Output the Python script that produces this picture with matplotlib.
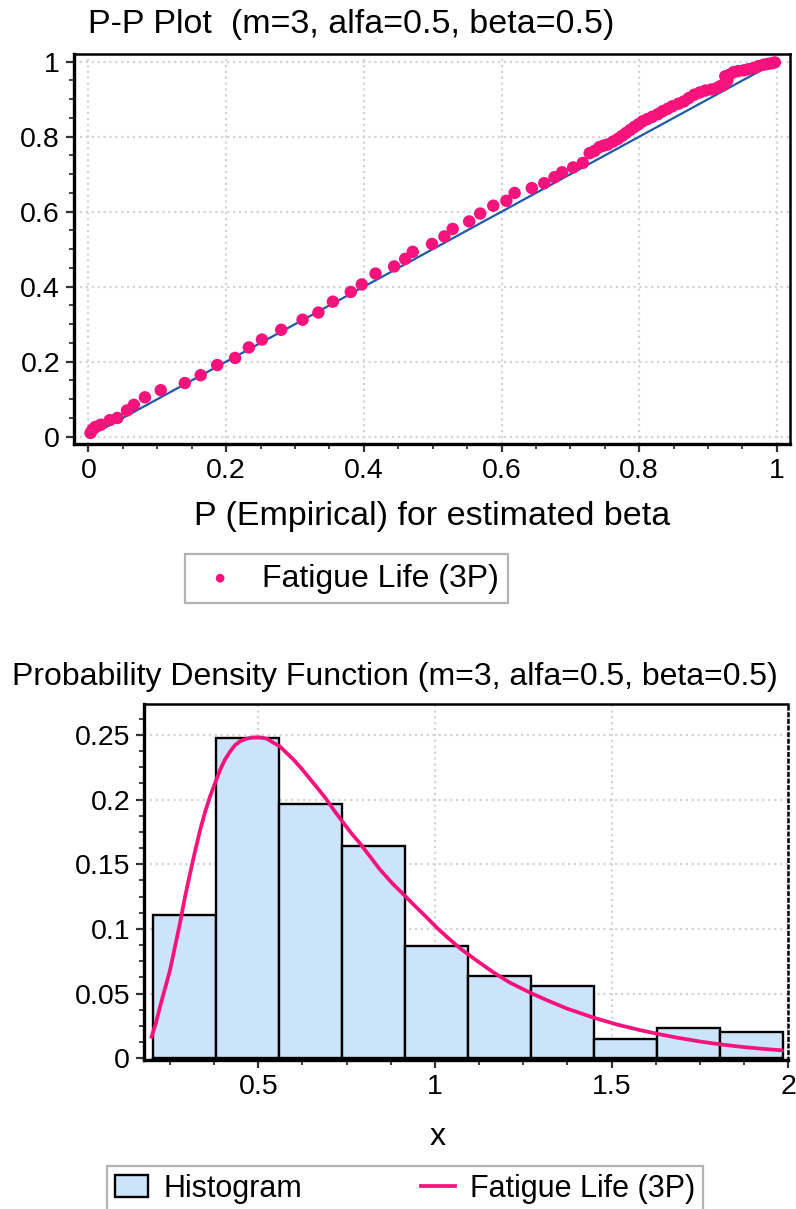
import numpy as np
import matplotlib
matplotlib.use("Agg")
import matplotlib.pyplot as plt
from matplotlib.ticker import MultipleLocator, FixedLocator, FixedFormatter

plt.rcParams['font.family'] = ['Liberation Sans', 'DejaVu Sans']

# P-P plot: empirical vs. fitted probabilities
pp_x = [0.003, 0.006, 0.010, 0.018, 0.031, 0.042, 0.056, 0.066, 0.082, 0.105,
        0.140, 0.163, 0.187, 0.213, 0.233, 0.252, 0.280, 0.311, 0.334, 0.355,
        0.381, 0.397, 0.417, 0.444, 0.460, 0.471, 0.499, 0.517, 0.529, 0.553,
        0.569, 0.588, 0.607, 0.619, 0.644, 0.662, 0.677, 0.688, 0.704, 0.718,
        0.728, 0.735, 0.742, 0.748, 0.754, 0.762, 0.769, 0.775, 0.781, 0.787,
        0.793, 0.799, 0.805, 0.812, 0.819, 0.827, 0.834, 0.841, 0.848, 0.857,
        0.865, 0.872, 0.880, 0.888, 0.896, 0.905, 0.913, 0.918, 0.923, 0.925,
        0.928, 0.931, 0.937, 0.944, 0.952, 0.959, 0.966, 0.973, 0.981, 0.987,
        0.993, 0.997]
pp_y = [0.010, 0.019, 0.026, 0.032, 0.044, 0.050, 0.070, 0.085, 0.105, 0.124,
        0.143, 0.164, 0.191, 0.210, 0.238, 0.259, 0.285, 0.312, 0.331, 0.360,
        0.386, 0.406, 0.435, 0.454, 0.474, 0.493, 0.514, 0.534, 0.554, 0.574,
        0.595, 0.616, 0.629, 0.650, 0.663, 0.676, 0.692, 0.705, 0.718, 0.730,
        0.756, 0.762, 0.772, 0.776, 0.779, 0.787, 0.794, 0.802, 0.810, 0.818,
        0.826, 0.833, 0.841, 0.847, 0.853, 0.860, 0.868, 0.874, 0.881, 0.888,
        0.894, 0.903, 0.912, 0.918, 0.923, 0.926, 0.930, 0.935, 0.939, 0.961,
        0.950, 0.965, 0.972, 0.975, 0.977, 0.980, 0.983, 0.988, 0.992, 0.994,
        0.996, 0.998]
diag_x = [0, 1]
diag_y = [0, 1]

# histogram (relative frequencies) and fitted Fatigue Life (3P) curve
bin_edges = [0.203, 0.381, 0.559, 0.737, 0.915, 1.093, 1.271, 1.449, 1.628, 1.806, 1.984]
hist_vals = [0.1104, 0.2473, 0.1965, 0.1644, 0.0865, 0.0634, 0.0562, 0.0146, 0.0231, 0.0200]

curve_x = [0.198, 0.210, 0.222, 0.236, 0.250, 0.264, 0.278, 0.292, 0.307, 0.321,
           0.335, 0.349, 0.363, 0.378, 0.392, 0.406, 0.420, 0.434, 0.448, 0.467,
           0.486, 0.505, 0.524, 0.542, 0.561, 0.580, 0.599, 0.622, 0.646, 0.670,
           0.693, 0.716, 0.738, 0.763, 0.788, 0.816, 0.844, 0.880, 0.917, 0.946,
           0.976, 1.005, 1.033, 1.071, 1.118, 1.165, 1.212, 1.271, 1.316, 1.373,
           1.448, 1.514, 1.580, 1.628, 1.684, 1.750, 1.807, 1.873, 1.929, 1.981]
curve_y = [0.0167, 0.027, 0.040, 0.054, 0.068, 0.086, 0.104, 0.124, 0.143, 0.160,
           0.176, 0.190, 0.202, 0.213, 0.223, 0.231, 0.237, 0.242, 0.245, 0.247,
           0.248, 0.248, 0.247, 0.244, 0.241, 0.236, 0.231, 0.224, 0.216, 0.208,
           0.200, 0.191, 0.183, 0.174, 0.166, 0.156, 0.146, 0.135, 0.125, 0.117,
           0.109, 0.101, 0.094, 0.0850, 0.0755, 0.0665, 0.0585, 0.0505, 0.0450, 0.0385,
           0.0315, 0.0262, 0.0218, 0.0190, 0.0160, 0.0130, 0.0108, 0.0087, 0.0073, 0.0062]

pink = '#f7127c'
blue = '#1f5aa8'
tick_fs = 20.5
label_fs = 23

fig = plt.figure(figsize=(7.96, 12.09), dpi=100)


def style_axes(ax):
    ax.grid(True, which='major', color='#d4d4d4', linestyle=':', linewidth=1.6)
    ax.set_axisbelow(True)
    for side in ['left', 'bottom']:
        ax.spines[side].set_linewidth(2.4)
    for side in ['top', 'right']:
        ax.spines[side].set_linewidth(1.8)
    ax.tick_params(which='major', direction='out', length=6, width=1.6,
                   labelsize=tick_fs, color='#333333', pad=4)
    ax.tick_params(which='minor', direction='out', length=3.5, width=1.3,
                   color='#333333')


# ---- P-P plot ----
ax1 = fig.add_axes([74 / 796, 1 - 444 / 1209, 716 / 796, 390 / 1209])
ax1.plot(diag_x, diag_y, color=blue, linewidth=1.6, zorder=2)
pp = ax1.scatter(pp_x, pp_y, s=80, color=pink, edgecolors='none', zorder=3,
                 label='Fatigue Life (3P)')
ax1.set_xlim(-0.021, 1.019)
ax1.set_ylim(-0.0195, 1.0205)
ticks01 = [0, 0.2, 0.4, 0.6, 0.8, 1]
labels01 = ['0', '0.2', '0.4', '0.6', '0.8', '1']
ax1.xaxis.set_major_locator(FixedLocator(ticks01))
ax1.xaxis.set_major_formatter(FixedFormatter(labels01))
ax1.yaxis.set_major_locator(FixedLocator(ticks01))
ax1.yaxis.set_major_formatter(FixedFormatter(labels01))
ax1.xaxis.set_minor_locator(MultipleLocator(0.05))
ax1.yaxis.set_minor_locator(MultipleLocator(0.05))
style_axes(ax1)
ax1.set_xlabel('P (Empirical) for estimated beta', fontsize=label_fs + 1.5)
ax1.xaxis.set_label_coords(0.5, -0.145)

fig.text(88 / 796, 1 - 24 / 1209, 'P-P Plot  (m=3, alfa=0.5, beta=0.5)',
         fontsize=label_fs + 1.5, ha='left', va='center')

leg1 = fig.legend(handles=[pp], loc='upper left',
                  bbox_to_anchor=(185 / 796, 1 - 554 / 1209), fontsize=label_fs,
                  frameon=True, fancybox=False, edgecolor='#a0a0a0',
                  handletextpad=0.5, borderpad=0.3, borderaxespad=0,
                  handlelength=1.6, markerscale=0.7)
leg1.get_frame().set_linewidth(1.6)

# ---- PDF + histogram ----
ax2 = fig.add_axes([144 / 796, 1 - 1060 / 1209, 644.3 / 796, 356 / 1209])
widths = np.diff(bin_edges)
bars = ax2.bar(bin_edges[:-1], hist_vals, width=widths, align='edge',
               color='#cce4fa', edgecolor='black', linewidth=1.7, zorder=2,
               label='Histogram')
curve, = ax2.plot(curve_x, curve_y, color=pink, linewidth=2.7, zorder=3,
                  label='Fatigue Life (3P)')
ax2.set_xlim(0.1765, 2.0)
ax2.set_ylim(-0.0013, 0.2738)
ax2.xaxis.set_major_locator(FixedLocator([0.5, 1, 1.5, 2]))
ax2.xaxis.set_major_formatter(FixedFormatter(['0.5', '1', '1.5', '2']))
ax2.yaxis.set_major_locator(FixedLocator([0, 0.05, 0.1, 0.15, 0.2, 0.25]))
ax2.yaxis.set_major_formatter(FixedFormatter(['0', '0.05', '0.1', '0.15', '0.2', '0.25']))
ax2.xaxis.set_minor_locator(MultipleLocator(0.125))
ax2.yaxis.set_minor_locator(MultipleLocator(0.0125))
style_axes(ax2)
ax2.spines['right'].set_linestyle(':')
ax2.set_xlabel('x', fontsize=label_fs)
ax2.xaxis.set_label_coords(0.455, -0.175)

fig.text(12 / 796, 1 - 677 / 1209,
         'Probability Density Function (m=3, alfa=0.5, beta=0.5)',
         fontsize=label_fs, ha='left', va='center')

leg2 = fig.legend(handles=[bars, curve], loc='upper left',
                  bbox_to_anchor=(107 / 796, 1 - 1166 / 1209), fontsize=label_fs - 1,
                  ncol=2, frameon=True, fancybox=False, edgecolor='#a0a0a0',
                  handletextpad=0.5, borderpad=0.25, borderaxespad=0,
                  columnspacing=3.9, handlelength=1.1)
leg2.get_frame().set_linewidth(1.6)

fig.savefig('out.png', dpi=100)
